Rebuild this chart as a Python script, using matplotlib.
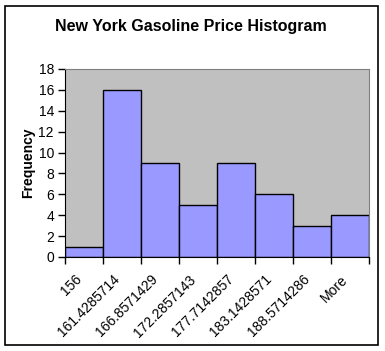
import matplotlib.pyplot as plt
from matplotlib.patches import Rectangle

plt.rcParams["font.family"] = "Liberation Sans"

# data
bins = ["156", "161.4285714", "166.8571429", "172.2857143", "177.7142857",
        "183.1428571", "188.5714286", "More"]
freq = [1, 16, 9, 5, 9, 6, 3, 4]

W, H = 385, 351
fig = plt.figure(figsize=(W / 100, H / 100), dpi=100)
fig.patch.set_facecolor("white")
fig.patches.append(Rectangle((5 / W, 6 / H), 373 / W, 339 / H, transform=fig.transFigure,
                             fill=False, edgecolor="black", linewidth=1.2))

ax = fig.add_axes([65 / W, 1 - 257 / H, 304 / W, 188 / H])
ax.set_facecolor("#C0C0C0")

x = list(range(len(freq)))
ax.bar(x, freq, width=1, align="edge", color="#9999FF", edgecolor="black", linewidth=1)

ax.set_xlim(0, len(freq))
ax.set_ylim(0, 18)
ax.set_yticks(range(0, 19, 2))
ax.set_xticks(range(len(freq) + 1))
ax.set_xticklabels([])
# rotated labels end a little left of the bin centre
ax.set_xticks([i + 0.25 for i in x], minor=True)
ax.set_xticklabels(bins, minor=True, rotation=45, ha="right", rotation_mode="anchor", fontsize=10)
ax.tick_params(axis="x", which="minor", length=0, pad=11)
ax.tick_params(axis="x", which="major", direction="out", length=5, width=1)
ax.tick_params(axis="y", direction="out", length=5, width=1, labelsize=10, pad=3)

for s in ["top", "right"]:
    ax.spines[s].set_color("#808080")
for s in ["left", "bottom"]:
    ax.spines[s].set_color("black")

ax.set_ylabel("Frequency", fontsize=10, fontweight="bold", labelpad=2)
fig.text(191 / W, 1 - 26 / H, "New York Gasoline Price Histogram", ha="center", va="center",
         fontsize=11.5, fontweight="bold")

fig.savefig("out.png", dpi=100)
